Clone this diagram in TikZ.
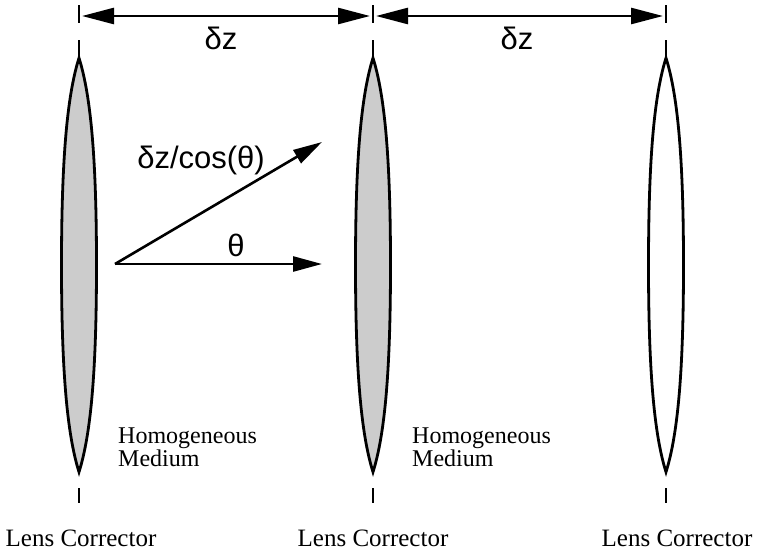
\documentclass[tikz,border=0pt]{standalone}
\usepackage{fontspec}
\setmainfont{Liberation Serif}
\newfontfamily\greekfont{Liberation Sans}
\usepackage{tikz}
\usetikzlibrary{arrows.meta,positioning,calc}

\definecolor{lensgray}{RGB}{204,204,204}

\tikzset{
    dimarrow/.style={line width=2.6pt, {Triangle[length=32pt,width=16pt]}-{Triangle[length=32pt,width=16pt]}, shorten <=3pt, shorten >=3pt},
    rayarrow/.style={line width=2.6pt, -{Triangle[length=29pt,width=15pt]}},
    tickmark/.style={line width=2.8pt},
    lensline/.style={line width=2.8pt},
    greeklabel/.style={font=\greekfont\fontsize{31}{33}\selectfont, inner sep=0pt},
    mediumlabel/.style={font=\fontsize{24}{18}\selectfont, align=left, inner sep=0pt, anchor=north west},
    lenslabel/.style={font=\fontsize{25}{27}\selectfont, inner sep=0pt}
}

% one lens: #1 = axis x, #2 = fill colour
\newcommand{\lensat}[2]{%
    \filldraw[lensline, fill=#2] (#1,58) .. controls ($(#1,58)+(12,38)$) and ($(#1,160)+(17.5,0)$) .. (#1+17.5,265)
        .. controls ($(#1,370)+(17.5,0)$) and ($(#1,472)+(12,-38)$) .. (#1,472)
        .. controls ($(#1,472)+(-12,-38)$) and ($(#1,370)+(-17.5,0)$) .. (#1-17.5,265)
        .. controls ($(#1,160)+(-17.5,0)$) and ($(#1,58)+(-12,38)$) .. (#1,58) -- cycle;
    \draw[tickmark] (#1,5) -- (#1,23);
    \draw[tickmark] (#1,40) -- (#1,58);
    \draw[tickmark] (#1,488) -- (#1,503);
}

\begin{document}
\begin{tikzpicture}[x=1pt, y=-1pt]
    \useasboundingbox (0,0) rectangle (758,552);

    % lenses
    \lensat{79}{lensgray}
    \lensat{373}{lensgray}
    \lensat{666}{white}

    \coordinate (top1) at (79,16);
    \coordinate (top2) at (373,16);
    \coordinate (top3) at (666,16);

    % step lengths
    \draw[dimarrow] (top1) -- (top2);
    \draw[dimarrow] (top2) -- (top3);
    \node[greeklabel] (dz1) at (221,38) {δz};
    \node[greeklabel] (dz2) at (517,38) {δz};

    % rays
    \coordinate (src) at (115,264);
    \coordinate (hend) at (322,264);
    \coordinate (dend) at (322,142);
    \draw[rayarrow] (src) -- (dend);
    \draw[rayarrow] (src) -- (hend);
    \node[greeklabel] (dzcos) at (201,160) {δz/cos(θ)};
    \node[greeklabel] (theta) at (236,245) {θ};

    % labels
    \node[mediumlabel] (med1) at (118,428) {Homogeneous\\Medium};
    \node[mediumlabel] (med2) at (412,428) {Homogeneous\\Medium};

    \node[lenslabel] (lc1) at (81,538) {Lens Corrector};
    \node[lenslabel] (lc2) at (373,538) {Lens Corrector};
    \node[lenslabel] (lc3) at (677,538) {Lens Corrector};
\end{tikzpicture}
\end{document}
